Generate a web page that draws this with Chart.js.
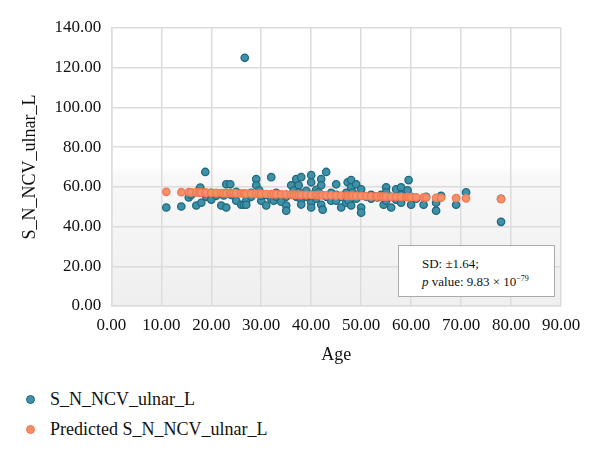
<!DOCTYPE html>
<html>
<head>
<meta charset="utf-8">
<script src="https://cdn.jsdelivr.net/npm/chart.js@4"></script>
<style>
  body { margin: 0; background: #fff; font-family: "Liberation Serif", serif; }
  .wrap { position: relative; width: 600px; height: 366px; }
  .note {
    position: absolute; left: 398px; top: 245px; width: 157px; height: 52px;
    box-sizing: border-box; border: 1px solid #aaa; background: #fff;
    font-size: 13px; color: #111; padding: 9px 0 0 23px; line-height: 18px;
  }
  .note sup { font-size: 8px; vertical-align: 5px; line-height: 0; }
  .legend { font-size: 18px; color: #111; }
  .legend div { position: absolute; left: 50px; }
  .legend span { position: absolute; left: -24px; top: 6px; width: 7px; height: 7px; border-radius: 50%; }
</style>
</head>
<body>
<div class="wrap">
  <canvas id="chart" width="600" height="366"></canvas>
  <div class="note">SD: ±1.64;<br><i>p</i> value: 9.83 × 10<sup>−79</sup></div>
</div>
<div class="legend">
  <div style="top:389px"><span style="background:#4090a8;border:1px solid #1d6a80"></span>S_N_NCV_ulnar_L</div>
  <div style="top:419px"><span style="background:#f48c68;border:1px solid #f07850"></span>Predicted S_N_NCV_ulnar_L</div>
</div>
<script>
// observed data (age, nerve conduction velocity)
const ages = [11, 14, 15.5, 16, 17, 17.5, 17.8, 18, 18.8, 19, 20, 20, 21, 22, 22.5, 23, 23, 23.8, 24, 24.5,
  25, 25, 26, 26.5, 26.7, 27, 27, 28, 28, 29, 29, 29.6, 30, 30, 31, 31, 32, 32, 32.5, 33,
  33, 34, 34, 35, 35, 35, 36, 36, 36.5, 37, 37, 37.5, 37.5, 38, 38, 38, 38, 39, 39, 40,
  40, 40, 40, 40, 41, 41, 41.5, 42, 42, 42, 42.3, 43, 43, 44, 44, 45, 45, 45, 46, 46,
  47, 47, 47.3, 47.5, 48, 48, 48, 48.3, 49, 49, 50, 50, 50, 51, 52, 52, 53, 53.3, 54, 54.5,
  55, 55, 55, 56, 56, 57, 57, 58, 58, 58, 59, 59.3, 59.5, 60, 60, 61, 62.5, 63, 65, 65,
  66, 69, 71, 78, 78];
const ncv = [49.6, 50.1, 54.7, 56, 50.6, 58.3, 59.6, 52, 67.5, 55, 53.6, 57, 55.5, 50.6, 55.7, 61.3, 49.6, 61.3, 56, 55.7,
  53, 57.5, 51, 51, 125, 53, 51, 55, 57, 63.9, 60.8, 58.3, 53, 55.5, 50.6, 56, 64.9, 54, 53, 55,
  57, 56, 52.5, 50.6, 48, 55, 60.8, 56, 58.3, 63.9, 55, 60.8, 57.2, 64.9, 53.6, 51.1, 56, 55, 58, 65.9,
  62.3, 52, 49.6, 56, 54, 58.5, 57.2, 63.9, 60.8, 51, 48.5, 67.5, 55, 53, 57, 61.3, 53, 56, 49.6, 55,
  52, 57, 62.3, 53, 63.4, 59.8, 50.6, 57.2, 61.3, 54, 58.8, 49.6, 47, 55, 54, 56, 55, 54.7, 56, 51,
  59.8, 57.2, 53, 49.6, 55, 58.8, 53.6, 59.8, 52, 56, 55, 58.3, 63.4, 51, 55, 54, 51, 55, 48, 52,
  55.5, 51, 57.2, 42.4, 54];

// predicted values from the regression
const predAges = [11, 14, 15.5, 16, 17, 17.5, 17.8, 18, 18.8, 19, 20, 21, 22, 22.5, 23, 23.8, 24, 24.5, 25, 26,
  26.5, 26.7, 27, 28, 29, 29.6, 30, 31, 32, 32.5, 33, 34, 35, 36, 36.5, 37, 37.5, 38, 39, 40,
  41, 41.5, 42, 42.3, 43, 44, 45, 46, 47, 47.3, 47.5, 48, 48.3, 49, 50, 51, 52, 53, 53.3, 54,
  54.5, 55, 56, 57, 58, 59, 59.3, 59.5, 60, 61, 62.5, 63, 65, 66, 69, 71, 78];
const predNcv = [57.5, 57.3, 57.3, 57.2, 57.2, 57.1, 57.1, 57.1, 57.1, 57.1, 57.0, 57.0, 56.9, 56.9, 56.8, 56.8, 56.8, 56.8, 56.7, 56.7,
  56.6, 56.6, 56.6, 56.6, 56.5, 56.5, 56.5, 56.4, 56.3, 56.3, 56.3, 56.2, 56.2, 56.1, 56.1, 56.1, 56.0, 56.0, 56.0, 55.9,
  55.9, 55.8, 55.8, 55.8, 55.7, 55.7, 55.6, 55.6, 55.5, 55.5, 55.5, 55.5, 55.5, 55.4, 55.4, 55.3, 55.2, 55.2, 55.2, 55.1,
  55.1, 55.1, 55.0, 55.0, 54.9, 54.9, 54.8, 54.8, 54.8, 54.7, 54.7, 54.6, 54.5, 54.5, 54.3, 54.2, 53.8];

// plot area shading, white on top and light grey lower down
const areaShade = {
  id: "areaShade",
  beforeDraw(chart) {
    const { ctx, chartArea: a } = chart;
    const g = ctx.createLinearGradient(0, a.top, 0, a.bottom);
    g.addColorStop(0, "#ffffff");
    g.addColorStop(0.5, "#ffffff");
    g.addColorStop(0.53, "#f8f8f8");
    g.addColorStop(1, "#efefef");
    ctx.save();
    ctx.fillStyle = g;
    ctx.fillRect(a.left, a.top, a.right - a.left, a.bottom - a.top);
    ctx.restore();
  }
};

const font = { family: "'Liberation Serif', serif", size: 17 };

new Chart(document.getElementById("chart"), {
  type: "scatter",
  data: {
    datasets: [
      {
        label: "S_N_NCV_ulnar_L",
        data: ages.map((a, i) => ({ x: a, y: ncv[i] })),
        backgroundColor: "#4090a8",
        borderColor: "#1d6a80",
        borderWidth: 1.3,
        pointRadius: 3.7,
        order: 1
      },
      {
        label: "Predicted S_N_NCV_ulnar_L",
        data: predAges.map((a, i) => ({ x: a, y: predNcv[i] })),
        backgroundColor: "#f4906c",
        borderColor: "#f27a52",
        borderWidth: 1.3,
        pointRadius: 3.7,
        order: 0
      }
    ]
  },
  options: {
    responsive: false,
    animation: false,
    layout: { padding: { left: 15, right: 39, top: 28, bottom: 0 } },
    plugins: { legend: { display: false }, tooltip: { enabled: false } },
    scales: {
      x: {
        min: 0, max: 90,
        ticks: { stepSize: 10, color: "#111", font, padding: 9, callback: v => v.toFixed(2) },
        grid: { color: "#dcdcdc", lineWidth: 1.5, drawTicks: false },
        border: { color: "#dcdcdc", width: 1.5 },
        title: { display: true, text: "Age", color: "#111", padding: 0, font: { family: font.family, size: 18 } }
      },
      y: {
        min: 0, max: 140,
        ticks: { stepSize: 20, color: "#111", font, padding: 10, callback: v => v.toFixed(2) },
        grid: { color: "#dcdcdc", lineWidth: 1.5, drawTicks: false },
        border: { color: "#dcdcdc", width: 1.5 },
        title: { display: true, text: "S_N_NCV_ulnar_L", color: "#111", font: { family: font.family, size: 18 } }
      }
    }
  },
  plugins: [areaShade]
});
</script>
</body>
</html>
